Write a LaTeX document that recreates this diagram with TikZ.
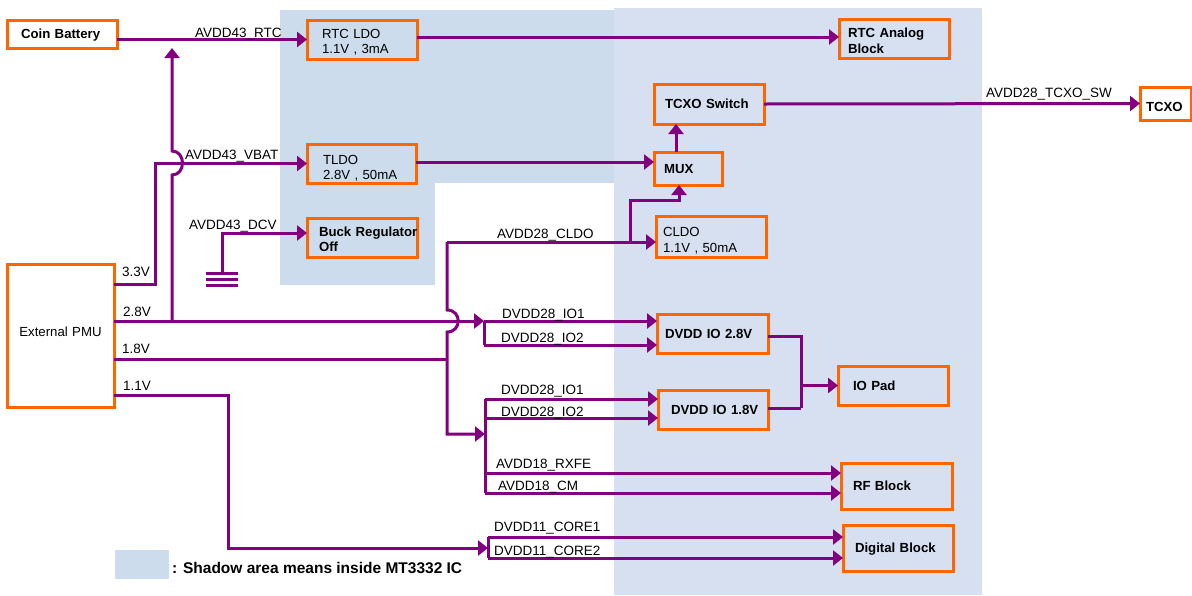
\documentclass[tikz,border=0pt]{standalone}
\usepackage{fontspec}
\setmainfont{Liberation Sans}
\usetikzlibrary{arrows.meta}
\definecolor{pur}{RGB}{128,0,128}
\definecolor{org}{RGB}{255,102,0}
\definecolor{shadeA}{RGB}{205,220,237}
\definecolor{shadeB}{RGB}{214,224,240}
\newcommand\myfs{\fontsize{13.2}{15.2}\selectfont}
\newcommand\mylfs{\fontsize{13.5}{15.5}\selectfont}
\begin{document}
\begin{tikzpicture}[x=1pt,y=-1pt,
  box/.style={draw=org, line width=3pt, anchor=north west, outer sep=0pt,
    inner ysep=0pt, align=left, font=\myfs},
  one/.style={text height=10pt, text depth=0.4pt},
  two/.style={text height=9.6pt, text depth=#1},
  lbl/.style={anchor=base west, inner sep=0pt, font=\mylfs},
  wire/.style={draw=pur, line width=3pt},
  arr/.style={wire, -{Triangle[length=10pt,width=15pt]}}]
\fill[white] (0,0) rectangle (1192,595);
\useasboundingbox (0,0) rectangle (1192,595);
% shaded IC areas
\fill[shadeA] (280,10) rectangle (435,285);
\fill[shadeA] (435,10) rectangle (614,183);
\fill[shadeB] (614,8) rectangle (982,595);
\fill[shadeA] (115,550) rectangle (169,579);
% boxes
\node[box, one, minimum height=28pt, inner xsep=14pt, text width=82pt] (coin) at (7,20) {\mbox{\bfseries Coin Battery}};
\node[box, two=11.7pt, minimum height=39pt, inner xsep=15pt, text width=80pt] (rtcldo) at (307,20) {\mbox{RTC LDO}\\\mbox{1.1V , 3mA}};
\node[box, two=7.7pt, minimum height=39pt, inner xsep=16pt, text width=77pt] (tldo) at (307,144) {TLDO\\\mbox{2.8V , 50mA}};
\node[box, two=11.7pt, minimum height=39pt, inner xsep=12pt, text width=86pt] (buck) at (307,218) {\bfseries\mbox{Buck Regulator}\\Off};
\node[box, text height=10pt, text depth=7.4pt, minimum height=143pt, inner xsep=5pt, text width=97pt, align=center] (extpmu) at (7,264) {\mbox{External PMU}};
\node[box, two=10.7pt, minimum height=39pt, inner xsep=9pt, text width=92pt] (rtcana) at (839,19) {\bfseries\mbox{RTC Analog}\\Block};
\node[box, one, minimum height=40pt, inner xsep=11pt, text width=88pt] (tcxosw) at (654,84) {\mbox{\bfseries TCXO Switch}};
\node[box, one, minimum height=33pt, inner xsep=10pt, text width=48pt] (mux) at (654,152) {\bfseries MUX};
\node[box, two=8.7pt, minimum height=41pt, inner xsep=7pt, text width=96pt] (cldo) at (656,216) {CLDO\\\mbox{1.1V , 50mA}};
\node[box, text height=16pt, text depth=0pt, minimum height=33pt, inner xsep=6pt, text width=39pt] (tcxo) at (1140,87) {\bfseries TCXO};
\node[box, one, minimum height=39pt, inner xsep=8pt, text width=95pt] (dvddio28) at (657,314) {\mbox{\bfseries DVDD IO 2.8V}};
\node[box, one, minimum height=39pt, inner xsep=13pt, text width=84pt] (dvddio18) at (658,390) {\mbox{\bfseries DVDD IO 1.8V}};
\node[box, one, minimum height=39pt, inner xsep=15pt, text width=80pt] (iopad) at (838,366) {\mbox{\bfseries IO Pad}};
\node[box, one, minimum height=46pt, inner xsep=12pt, text width=87pt] (rfblock) at (841,463) {\mbox{\bfseries RF Block}};
\node[box, one, minimum height=46pt, inner xsep=12pt, text width=86pt] (digital) at (843,525) {\mbox{\bfseries Digital Block}};
% connectors
\draw[arr] (coin.east |- rtcldo.west) -- (rtcldo.west);
\draw[arr] (rtcldo.east |- 0,37) -- (rtcana.west |- 0,37);
\draw[arr] (tldo.east |- 0,162) -- (mux.west |- 0,162);
\draw[arr] (mux.north -| 676,0) -- (tcxosw.south -| 676,0);
\draw[arr] (tcxosw.east) -- (tcxo.west);
% 3.3V
\draw[arr] (extpmu.east |- 0,284) -| (155,163.5) -- (tldo.west);
% 2.8V
\coordinate (j28) at (484,321);
\coordinate (j28b) at (484,345);
\draw[arr] (extpmu.east |- j28) -- (j28);
\draw[arr] (j28) -- (dvddio28.west |- j28);
\draw[wire] (j28) -- (j28b);
\draw[arr] (j28b) -- (dvddio28.west |- j28b);
\coordinate (t28) at (172,321);
\coordinate (rtcj) at (172,48);
\draw[arr] (t28) -- (172,175) .. controls (186,175) and (186,151) .. (172,151) -- (rtcj);
% DCV
\coordinate (gnd) at (222,273);
\draw[arr] (gnd) |- (buck.west |- 0,233);
\draw[wire] (206,273) -- (238,273);
\draw[wire] (206,279) -- (238,279);
\draw[wire] (206,285) -- (238,285);
% CLDO / 1.8V
\coordinate (vtop) at (447,242);
\coordinate (j18) at (485,434);
\draw[arr] (vtop) -- (cldo.west |- vtop);
\draw[arr] (vtop) -- (447,310) .. controls (462,310) and (462,332) .. (447,332) -- (447,434) -- (j18);
\draw[wire] (extpmu.east |- 0,359) -- (447,359);
\draw[arr] (630,242) -- (630,200) -- (679,200) -- (mux.south -| 679,0);
\coordinate (b18t) at (485,399);
\coordinate (b18b) at (485,493);
\draw[wire] (b18t) -- (b18b);
\draw[arr] (b18t) -- (dvddio18.west |- b18t);
\draw[arr] (485,418) -- (dvddio18.west |- 0,418);
\draw[arr] (485,473) -- (rfblock.west |- 0,473);
\draw[arr] (b18b) -- (rfblock.west |- b18b);
% 1.1V
\coordinate (j11) at (488,548);
\draw[arr] (extpmu.east |- 0,395) -- (228,395) -- (228,548) -- (j11);
\draw[wire] (488,537) -- (488,558);
\draw[arr] (488,537) -- (digital.west |- 0,537);
\draw[arr] (488,558) -- (digital.west |- 0,558);
% IO pad
\draw[wire] (dvddio28.east |- 0,336) -- (801,336) -- (801,408);
\draw[wire] (dvddio18.east |- 0,408) -- (801,408);
\draw[arr] (iopad.west -| 801,0) -- (iopad.west);
% labels
\node[lbl] (lrtc) at (195,37) {AVDD43\_RTC};
\node[lbl] (lvbat) at (185,159) {AVDD43\_VBAT};
\node[lbl] (ldcv) at (189,229) {AVDD43\_DCV};
\node[lbl] (l33) at (122,276) {3.3V};
\node[lbl] (l28) at (123,316) {2.8V};
\node[lbl] (l18) at (122,353) {1.8V};
\node[lbl] (l11) at (123,390) {1.1V};
\node[lbl] (lcldo) at (497,238) {AVDD28\_CLDO};
\node[lbl] (lio1a) at (502,318) {DVDD28\_IO1};
\node[lbl] (lio2a) at (501,342) {DVDD28\_IO2};
\node[lbl] (lio1b) at (501,394) {DVDD28\_IO1};
\node[lbl] (lio2b) at (501,416) {DVDD28\_IO2};
\node[lbl] (lrxfe) at (496,468) {AVDD18\_RXFE};
\node[lbl] (lcm) at (498,490) {AVDD18\_CM};
\node[lbl] (lcore1) at (494,531) {DVDD11\_CORE1};
\node[lbl] (lcore2) at (494,555) {DVDD11\_CORE2};
\node[lbl] (ltcxo) at (986,97) {AVDD28\_TCXO\_SW};
\node[lbl, font=\fontsize{15.5}{17}\selectfont\bfseries] (legend) at (172,573) {: Shadow area means inside MT3332 IC};
\end{tikzpicture}
\end{document}
